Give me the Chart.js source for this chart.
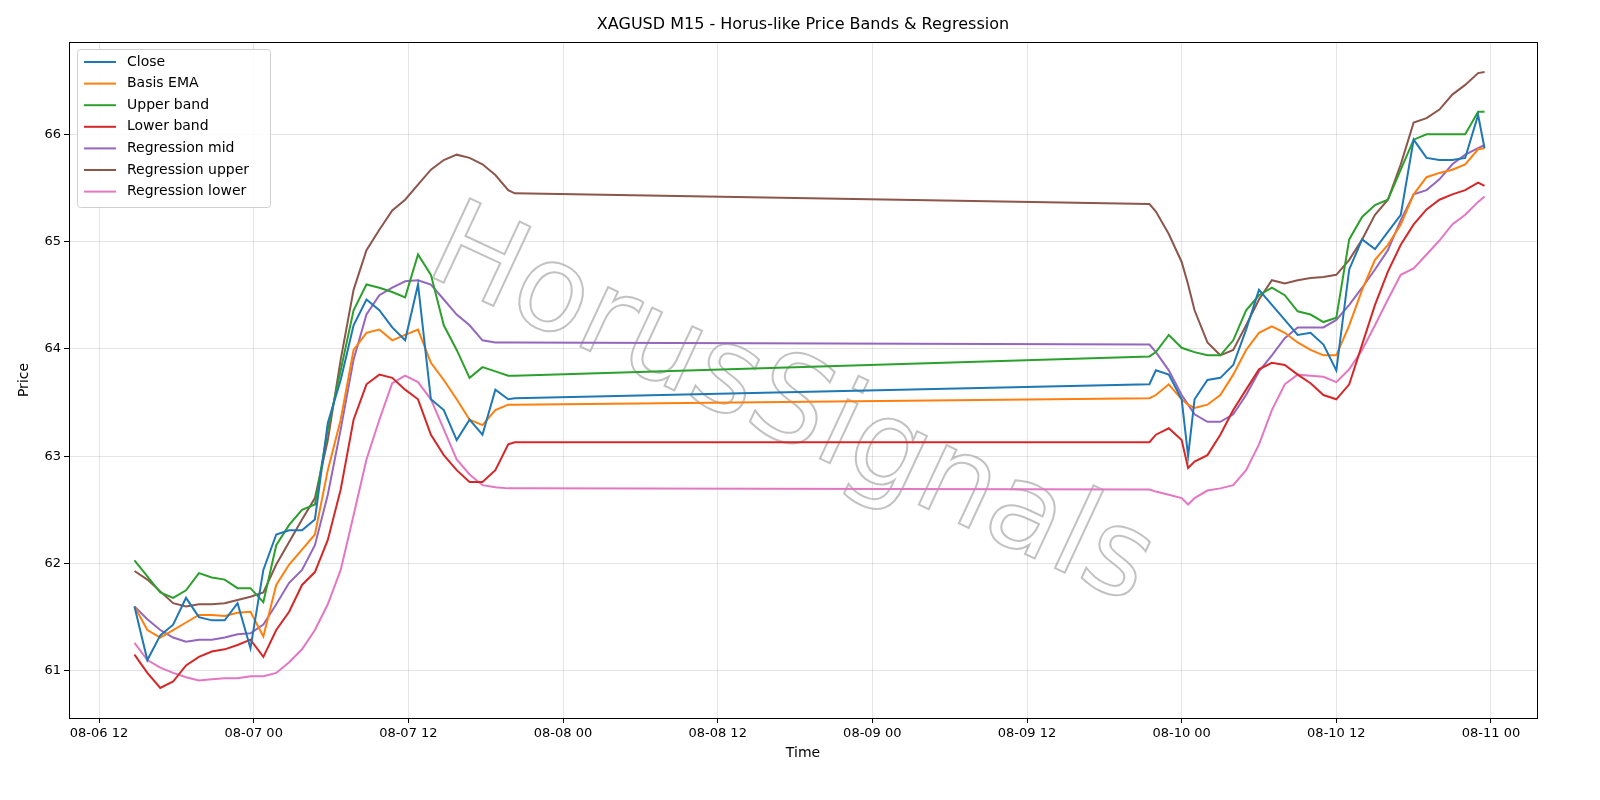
<!DOCTYPE html>
<html>
<head>
<meta charset="utf-8">
<script src="https://cdn.jsdelivr.net/npm/chart.js@4/dist/chart.umd.min.js"></script>
<style>
  html, body { margin: 0; padding: 0; background: #fff; }
  #wrap { width: 1600px; height: 800px; }
</style>
</head>
<body>
<div id="wrap"><canvas id="chart" width="1600" height="800"></canvas></div>
<script>
// Time in hours since 08-06 00:00 (M15 bars, sampled)
const times = [
  14.75, 15.75, 16.75, 17.75, 18.75, 19.75, 20.75, 21.75, 22.75, 23.75,
  24.75, 25.75, 26.75, 27.75, 28.75, 29.75, 30.75, 31.75, 32.75, 33.75,
  34.75, 35.75, 36.75, 37.75, 38.75, 39.75, 40.75, 41.75, 42.75, 43.75, 44.25,
  93.5, 94, 95, 96, 96.5, 97, 98, 99, 100, 101, 102, 103, 104, 105, 106, 107,
  108, 109, 110, 111, 112, 113, 114, 115, 116, 117, 118, 119, 119.5
];

const closeVals = [
  61.6, 61.1, 61.33, 61.43, 61.68, 61.5, 61.47, 61.47, 61.63, 61.21,
  61.94, 62.27, 62.31, 62.31, 62.41, 63.31, 63.71, 64.22, 64.46, 64.36,
  64.2, 64.08, 64.6, 63.53, 63.43, 63.15, 63.34, 63.2, 63.62, 63.53, 63.54,
  63.67, 63.8, 63.76, 63.53, 63.0, 63.53, 63.71, 63.73, 63.85, 64.18, 64.55, 64.41, 64.27, 64.13, 64.15, 64.04,
  63.8, 64.74, 65.02, 64.93, 65.09, 65.25, 65.95, 65.78, 65.76, 65.76, 65.78, 66.18, 65.87
];
const basisVals = [
  61.6, 61.38, 61.31, 61.38, 61.45, 61.52, 61.52, 61.51, 61.54, 61.55,
  61.32, 61.8, 61.99, 62.13, 62.27, 62.87, 63.34, 63.99, 64.15, 64.18,
  64.08, 64.13, 64.18, 63.87, 63.71, 63.53, 63.34, 63.29, 63.43, 63.48, 63.48,
  63.54, 63.57, 63.67, 63.53, 63.48, 63.45, 63.48, 63.57, 63.76, 63.99, 64.15, 64.21, 64.15, 64.06, 63.99, 63.94,
  63.94, 64.22, 64.55, 64.83, 64.97, 65.16, 65.44, 65.6, 65.64, 65.67, 65.72, 65.86, 65.87
];
const upperVals = [
  62.03, 61.88, 61.73, 61.68, 61.75, 61.91, 61.87, 61.85, 61.77, 61.77,
  61.64, 62.17, 62.36, 62.5, 62.55, 63.25, 63.8, 64.36, 64.6, 64.57,
  64.53, 64.48, 64.88, 64.69, 64.22, 63.99, 63.73, 63.83, 63.79, 63.75, 63.75,
  63.93, 63.97, 64.13, 64.01, 63.99, 63.97, 63.94, 63.94, 64.08, 64.36, 64.5, 64.57, 64.5, 64.35, 64.32, 64.25,
  64.29, 65.02, 65.23, 65.34, 65.39, 65.67, 65.95, 66.0, 66.0, 66.0, 66.0, 66.21, 66.21
];
const lowerVals = [
  61.15, 60.98, 60.84, 60.9, 61.05, 61.13, 61.18, 61.2, 61.24, 61.29,
  61.13, 61.38, 61.55, 61.8, 61.92, 62.22, 62.69, 63.34, 63.67, 63.76,
  63.73, 63.62, 63.53, 63.2, 63.01, 62.87, 62.76, 62.76, 62.87, 63.11, 63.13,
  63.13, 63.2, 63.26, 63.15, 62.89, 62.95, 63.01, 63.2, 63.43, 63.62, 63.81, 63.87, 63.85, 63.76, 63.68, 63.57,
  63.53, 63.67, 64.04, 64.41, 64.72, 64.97, 65.16, 65.3, 65.39, 65.44, 65.48, 65.55, 65.52
];
const regMidVals = [
  61.6, 61.48, 61.38, 61.31, 61.27, 61.29, 61.29, 61.31, 61.34, 61.35,
  61.43, 61.62, 61.82, 61.94, 62.17, 62.64, 63.25, 63.9, 64.32, 64.5,
  64.57, 64.63, 64.64, 64.6, 64.46, 64.32, 64.22, 64.08, 64.06, 64.06, 64.06,
  64.04, 63.97, 63.8, 63.57, 63.48, 63.39, 63.32, 63.32, 63.39, 63.57, 63.79, 63.94, 64.1, 64.2, 64.2, 64.2,
  64.27, 64.41, 64.57, 64.74, 64.92, 65.2, 65.44, 65.48, 65.58, 65.72, 65.81, 65.87, 65.9
];
const regUpperVals = [
  61.93, 61.85, 61.74, 61.63, 61.6, 61.62, 61.62, 61.63, 61.66, 61.69,
  61.73, 61.99, 62.2, 62.41, 62.61, 63.15, 63.9, 64.55, 64.92, 65.11,
  65.29, 65.39, 65.53, 65.67, 65.76, 65.81, 65.78, 65.72, 65.62, 65.48, 65.45,
  65.35, 65.28, 65.07, 64.81, 64.6, 64.36, 64.06, 63.94, 63.99, 64.22, 64.46, 64.64, 64.61, 64.64, 64.66, 64.67,
  64.69, 64.83, 65.02, 65.25, 65.39, 65.72, 66.11, 66.15, 66.23, 66.37, 66.46, 66.57, 66.58
];
const regLowerVals = [
  61.26, 61.1, 61.03, 60.98, 60.94, 60.91, 60.92, 60.93, 60.93, 60.95,
  60.95, 60.98, 61.08, 61.2, 61.38, 61.62, 61.94, 62.45, 62.97, 63.34,
  63.68, 63.75, 63.69, 63.53, 63.25, 62.97, 62.83, 62.73, 62.71, 62.7, 62.7,
  62.69, 62.67, 62.64, 62.61, 62.55, 62.61, 62.68, 62.7, 62.73, 62.87, 63.11, 63.43, 63.67, 63.76, 63.75, 63.74,
  63.69, 63.81, 63.99, 64.22, 64.46, 64.69, 64.75, 64.88, 65.01, 65.16, 65.25, 65.37, 65.42
];

const xTicks = [12, 24, 36, 48, 60, 72, 84, 96, 108, 120];
const yTicks = [61, 62, 63, 64, 65, 66];

const seriesNames = ['Close', 'Basis EMA', 'Upper band', 'Lower band', 'Regression mid', 'Regression upper', 'Regression lower'];
const seriesColors = ['#1f77b4', '#ff7f0e', '#2ca02c', '#d62728', '#9467bd', '#8c564b', '#e377c2'];
const seriesValues = [closeVals, basisVals, upperVals, lowerVals, regMidVals, regUpperVals, regLowerVals];

const FONT = '"DejaVu Sans", sans-serif';

function timeLabel(v) {
    const day = 6 + Math.floor(v / 24);
    const hour = v % 24;
    return '08-' + String(day).padStart(2, '0') + ' ' + String(hour).padStart(2, '0');
}

// Title, frame, legend box and the watermark
const decor = {
    id: 'decor',
    beforeDatasetsDraw(chart) {
        const ctx = chart.ctx;
        ctx.save();
        ctx.translate(790, 410);
        ctx.rotate(25 * Math.PI / 180);
        ctx.font = '120px ' + FONT;
        ctx.textAlign = 'center';
        ctx.textBaseline = 'middle';
        ctx.fillStyle = 'rgba(255,255,255,0.6)';
        ctx.fillText('HorusSignals', 0, 0);
        ctx.lineWidth = 2;
        ctx.strokeStyle = 'rgba(120,120,120,0.45)';
        ctx.strokeText('HorusSignals', 0, 0);
        ctx.restore();
    },
    afterDraw(chart) {
        const ctx = chart.ctx;
        const a = chart.chartArea;
        ctx.save();
        ctx.strokeStyle = '#000';
        ctx.lineWidth = 1;
        ctx.strokeRect(a.left + 0.5, a.top + 0.5, a.right - a.left, a.bottom - a.top);

        ctx.fillStyle = '#000';
        ctx.font = '16px ' + FONT;
        ctx.textAlign = 'center';
        ctx.textBaseline = 'middle';
        ctx.fillText('XAGUSD M15 - Horus-like Price Bands & Regression', (a.left + a.right) / 2, 25);

        // legend
        const lx = a.left + 8, ly = a.top + 7, lw = 193, lh = 158;
        ctx.fillStyle = 'rgba(255,255,255,0.85)';
        ctx.strokeStyle = '#d0d0d0';
        ctx.beginPath();
        ctx.roundRect(lx + 0.5, ly + 0.5, lw, lh, 3);
        ctx.fill();
        ctx.stroke();
        ctx.font = '14px ' + FONT;
        ctx.textAlign = 'left';
        chart.data.datasets.forEach((ds, i) => {
            const y = ly + 13 + i * 21.6;
            ctx.strokeStyle = ds.borderColor;
            ctx.lineWidth = 2;
            ctx.beginPath();
            ctx.moveTo(lx + 7, y);
            ctx.lineTo(lx + 39, y);
            ctx.stroke();
            ctx.fillStyle = '#000';
            ctx.fillText(ds.label, lx + 50, y);
        });
        ctx.restore();
    }
};

const datasets = seriesNames.map((name, i) => ({
    label: name,
    data: times.map((t, j) => ({ x: t, y: seriesValues[i][j] })),
    borderColor: seriesColors[i],
    backgroundColor: seriesColors[i],
    borderWidth: 2,
    pointRadius: 0,
    tension: 0,
    fill: false
}));

const config = {
    type: 'line',
    data: { datasets: datasets },
    options: {
        responsive: false,
        animation: false,
        devicePixelRatio: 1,
        layout: { padding: { top: 42, right: 63, left: 12, bottom: 34 } },
        scales: {
            x: {
                type: 'linear',
                min: 9.67,
                max: 123.57,
                afterBuildTicks: (scale) => { scale.ticks = xTicks.map(v => ({ value: v })); },
                afterFit: (scale) => { scale.height = 48; },
                grid: { color: 'rgba(0,0,0,0.1)', tickColor: '#000', tickLength: 5 },
                border: { display: false },
                ticks: {
                    color: '#000',
                    font: { family: FONT, size: 13 },
                    maxRotation: 0,
                    autoSkip: false,
                    callback: (v) => timeLabel(v)
                },
                title: { display: true, text: 'Time', color: '#000', font: { family: FONT, size: 14 }, padding: { top: 2 } }
            },
            y: {
                min: 60.56,
                max: 66.86,
                afterBuildTicks: (scale) => { scale.ticks = yTicks.map(v => ({ value: v })); },
                afterFit: (scale) => { scale.width = 57; },
                grid: { color: 'rgba(0,0,0,0.1)', tickColor: '#000', tickLength: 5 },
                border: { display: false },
                ticks: {
                    color: '#000',
                    font: { family: FONT, size: 13 },
                    callback: (v) => String(v)
                },
                title: { display: true, text: 'Price', color: '#000', font: { family: FONT, size: 14 } }
            }
        },
        plugins: {
            legend: { display: false },
            tooltip: { enabled: false }
        }
    },
    plugins: [decor]
};

new Chart(document.getElementById('chart').getContext('2d'), config);
</script>
</body>
</html>
